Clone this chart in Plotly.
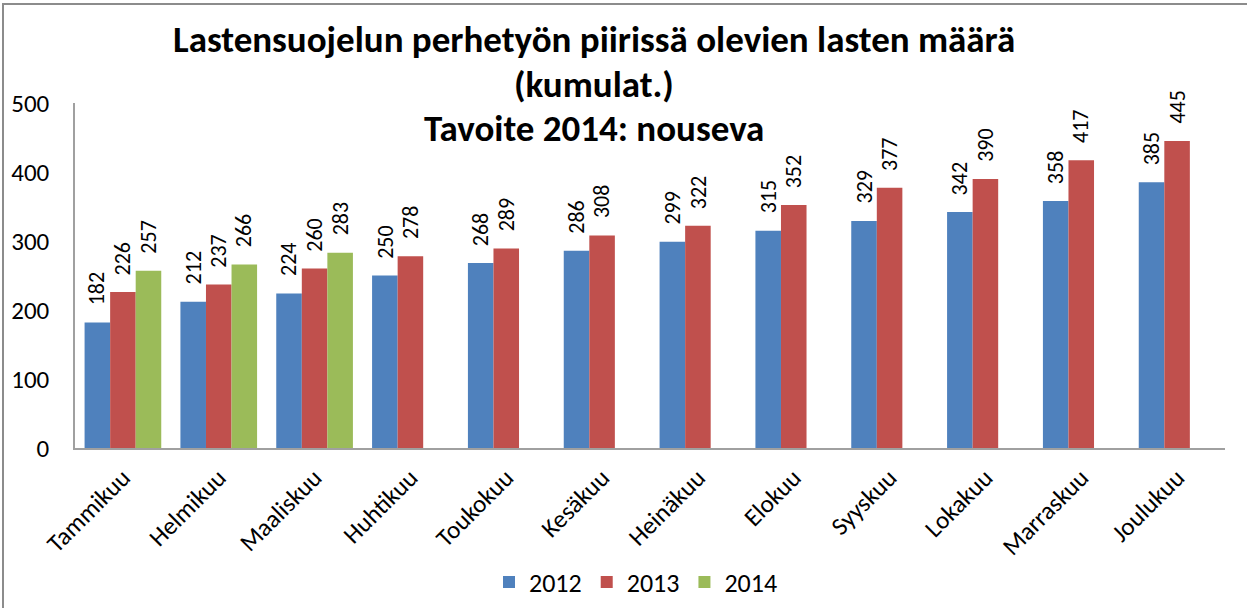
import plotly.graph_objects as go

months = ["Tammikuu", "Helmikuu", "Maaliskuu", "Huhtikuu", "Toukokuu", "Kesäkuu",
          "Heinäkuu", "Elokuu", "Syyskuu", "Lokakuu", "Marraskuu", "Joulukuu"]
v2012 = [182, 212, 224, 250, 268, 286, 299, 315, 329, 342, 358, 385]
v2013 = [226, 237, 260, 278, 289, 308, 322, 352, 377, 390, 417, 445]
v2014 = [257, 266, 283, None, None, None, None, None, None, None, None, None]
series_names = ["2012", "2013", "2014"]
colors = ["#4F81BD", "#C0504D", "#9BBB59"]
title_lines = ["Lastensuojelun perhetyön piirissä olevien lasten määrä",
               "(kumulat.)", "Tavoite 2014: nouseva"]

FONT = "Carlito, Calibri, Lato, sans-serif"
W, H = 1247, 608
ML, MR, MT, MB = 75, 22, 103, 160
pw = W - ML - MR
ph = H - MT - MB
bargap = 0.2
barw_px = pw / len(months) * (1 - bargap) / 3

fig = go.Figure()
for name, vals, col in zip(series_names, [v2012, v2013, v2014], colors):
    fig.add_trace(go.Bar(x=months, y=vals, name=name, marker_color=col,
                         marker_line_width=0, hoverinfo="x+y+name"))

annotations = []
for i, vals in enumerate([v2012, v2013, v2014]):
    for m, v in zip(months, vals):
        if v is None:
            continue
        annotations.append(dict(
            x=m, y=v, xref="x", yref="y", text=str(v), showarrow=False,
            textangle=-90, xanchor="center", yanchor="bottom",
            xshift=(i - 1) * barw_px, yshift=15,
            font=dict(family=FONT, size=22, color="#000000")))

def py(pix):
    return (H - MB - pix) / ph

def px(pix):
    return (pix - ML) / pw

for txt, ypix in zip(title_lines, [40, 84, 128]):
    annotations.append(dict(
        x=px(594), y=py(ypix), xref="paper", yref="paper", text="<b>%s</b>" % txt,
        showarrow=False, xanchor="center", yanchor="middle",
        font=dict(family=FONT, size=37, color="#000000")))

fig.update_layout(
    width=W, height=H,
    margin=dict(l=ML, r=MR, t=MT, b=MB, autoexpand=False),
    paper_bgcolor="white", plot_bgcolor="white",
    barmode="group", bargap=bargap, bargroupgap=0,
    font=dict(family=FONT, color="#000000"),
    annotations=annotations,
    showlegend=True,
    legend=dict(orientation="h", x=px(636), xanchor="center", y=py(582), yanchor="middle",
                font=dict(family=FONT, size=26), itemwidth=30, traceorder="normal"),
    shapes=[dict(type="rect", xref="paper", yref="paper",
                 x0=px(3), x1=px(1260), y0=py(620), y1=py(4),
                 line=dict(color="#8C8C8C", width=2), fillcolor="rgba(0,0,0,0)", layer="above")],
)
fig.update_xaxes(showline=True, linecolor="#A0A0A0", linewidth=2, ticks="",
                 tickangle=-45, tickfont=dict(family=FONT, size=25), showgrid=False,
                 ticklabelstandoff=3)
fig.update_yaxes(range=[0, 500], dtick=100, showline=True, linecolor="#A0A0A0", linewidth=1.5,
                 ticks="", showgrid=False, zeroline=False,
                 tickfont=dict(family=FONT, size=25), ticklabelstandoff=19)

fig.write_html("out.html", config={"displayModeBar": False},
               post_script="document.body.style.margin='0px';")
